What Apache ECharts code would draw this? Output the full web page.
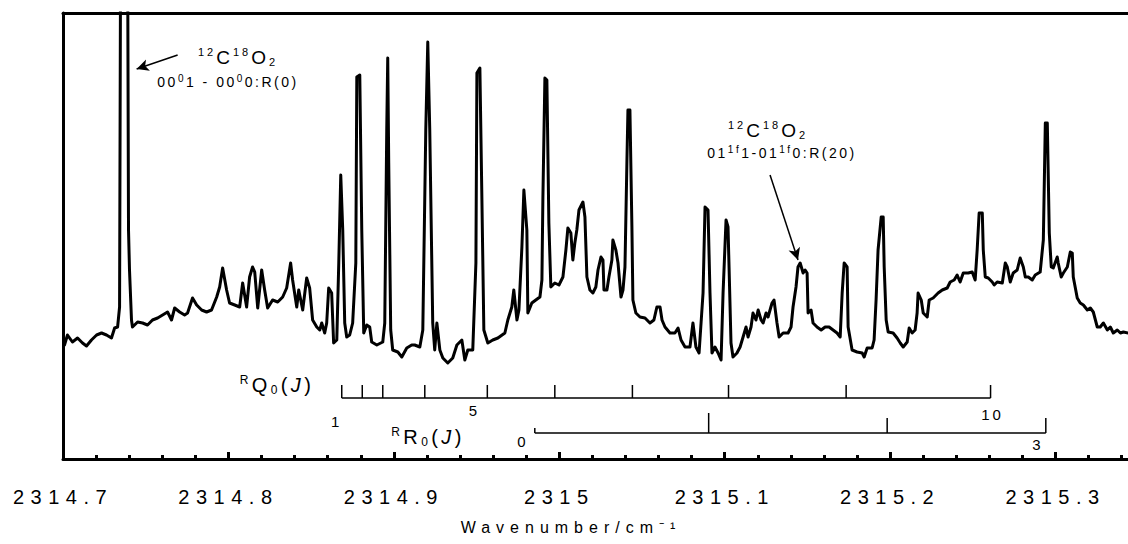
<!DOCTYPE html>
<html>
<head>
<meta charset="utf-8">
<script src="https://cdn.jsdelivr.net/npm/echarts@6.0.0/dist/echarts.min.js"></script>
<style>
html,body{margin:0;padding:0;background:#fff;overflow:hidden;width:1128px;height:544px}
#c{width:1221px;height:544px}
</style>
</head>
<body>
<div id="c"></div>
<script>
// ---- data ----
const wavenumber = [
2314.7009,2314.7027,2314.7057,2314.7088,2314.7118,2314.7142,2314.7172,2314.7203,2314.7233,2314.7263,
2314.7293,2314.7312,2314.7330,2314.7342,2314.7354,2314.7384,2314.7396,2314.7402,2314.7414,2314.7420,
2314.7451,2314.7481,2314.7511,2314.7541,2314.7572,2314.7602,2314.7632,2314.7656,2314.7675,2314.7705,
2314.7735,2314.7753,2314.7783,2314.7808,2314.7838,2314.7868,2314.7898,2314.7929,2314.7947,2314.7965,
2314.7989,2314.8007,2314.8038,2314.8068,2314.8086,2314.8110,2314.8128,2314.8146,2314.8159,2314.8177,
2314.8201,2314.8219,2314.8237,2314.8267,2314.8298,2314.8328,2314.8352,2314.8376,2314.8388,2314.8413,
2314.8425,2314.8449,2314.8473,2314.8491,2314.8509,2314.8534,2314.8552,2314.8564,2314.8582,2314.8594,
2314.8606,2314.8624,2314.8636,2314.8655,2314.8667,2314.8679,2314.8691,2314.8703,2314.8715,2314.8733,
2314.8751,2314.8770,2314.8776,2314.8794,2314.8806,2314.8818,2314.8836,2314.8854,2314.8866,2314.8897,
2314.8933,2314.8945,2314.8957,2314.8963,2314.8969,2314.8981,2314.8993,2314.9024,2314.9048,2314.9078,
2314.9108,2314.9126,2314.9157,2314.9175,2314.9193,2314.9205,2314.9217,2314.9235,2314.9247,2314.9260,
2314.9278,2314.9296,2314.9326,2314.9356,2314.9381,2314.9411,2314.9429,2314.9447,2314.9477,2314.9496,
2314.9502,2314.9520,2314.9532,2314.9544,2314.9568,2314.9598,2314.9629,2314.9671,2314.9689,2314.9713,
2314.9725,2314.9744,2314.9756,2314.9774,2314.9786,2314.9804,2314.9810,2314.9834,2314.9858,2314.9883,
2314.9895,2314.9901,2314.9913,2314.9925,2314.9937,2314.9949,2314.9973,2314.9998,2315.0022,2315.0040,
2315.0052,2315.0070,2315.0082,2315.0094,2315.0106,2315.0119,2315.0143,2315.0155,2315.0167,2315.0185,
2315.0203,2315.0221,2315.0234,2315.0252,2315.0264,2315.0270,2315.0288,2315.0300,2315.0318,2315.0324,
2315.0342,2315.0355,2315.0373,2315.0385,2315.0397,2315.0409,2315.0415,2315.0427,2315.0439,2315.0445,
2315.0463,2315.0488,2315.0518,2315.0548,2315.0572,2315.0590,2315.0609,2315.0621,2315.0639,2315.0669,
2315.0699,2315.0718,2315.0736,2315.0760,2315.0790,2315.0808,2315.0826,2315.0845,2315.0869,2315.0881,
2315.0899,2315.0911,2315.0923,2315.0941,2315.0960,2315.0978,2315.0990,2315.1008,2315.1020,2315.1038,
2315.1050,2315.1074,2315.1093,2315.1111,2315.1129,2315.1141,2315.1159,2315.1171,2315.1189,2315.1202,
2315.1220,2315.1232,2315.1250,2315.1262,2315.1286,2315.1298,2315.1316,2315.1329,2315.1353,2315.1383,
2315.1401,2315.1413,2315.1431,2315.1443,2315.1456,2315.1474,2315.1486,2315.1498,2315.1504,2315.1522,
2315.1534,2315.1558,2315.1583,2315.1607,2315.1631,2315.1655,2315.1679,2315.1698,2315.1710,2315.1722,
2315.1740,2315.1746,2315.1770,2315.1800,2315.1831,2315.1843,2315.1861,2315.1891,2315.1903,2315.1915,
2315.1927,2315.1946,2315.1958,2315.1964,2315.1976,2315.1988,2315.2018,2315.2042,2315.2061,2315.2079,
2315.2103,2315.2115,2315.2133,2315.2151,2315.2163,2315.2169,2315.2188,2315.2200,2315.2224,2315.2236,
2315.2260,2315.2290,2315.2315,2315.2345,2315.2363,2315.2387,2315.2405,2315.2423,2315.2442,2315.2472,
2315.2496,2315.2514,2315.2526,2315.2538,2315.2557,2315.2563,2315.2575,2315.2593,2315.2617,2315.2629,
2315.2647,2315.2678,2315.2696,2315.2708,2315.2726,2315.2744,2315.2768,2315.2786,2315.2805,2315.2817,
2315.2835,2315.2859,2315.2877,2315.2907,2315.2926,2315.2938,2315.2950,2315.2962,2315.2974,2315.2986,
2315.3010,2315.3016,2315.3034,2315.3047,2315.3071,2315.3089,2315.3101,2315.3107,2315.3131,2315.3149,
2315.3168,2315.3192,2315.3210,2315.3228,2315.3252,2315.3270,2315.3289,2315.3313,2315.3331,2315.3349,
2315.3373,2315.3392,2315.3410,2315.3440
];
const intensity = [
114,124,117,121,116,113,119,124,126,124,
121,131,132,152,859,859,229,189,139,132,
137,136,134,139,141,144,147,139,151,147,
144,146,161,154,149,147,149,162,172,191,
169,156,154,152,176,152,182,192,187,151,
189,169,151,159,157,162,171,196,179,152,
169,149,181,171,139,132,129,136,126,136,
171,166,116,119,196,284,229,136,122,124,
136,196,382,384,229,126,134,132,117,114,
117,136,329,401,296,129,109,107,102,111,
114,114,112,129,329,417,329,136,109,136,
109,101,96,101,114,119,99,109,109,196,
386,391,262,129,116,119,121,126,139,152,
169,139,149,212,269,229,146,156,159,162,
179,262,381,379,236,172,176,174,182,209,
231,226,199,216,229,249,257,242,182,169,
166,172,189,202,199,169,169,182,199,219,
209,196,162,169,192,299,349,349,232,159,
146,142,141,136,139,152,152,139,132,126,
126,131,119,112,112,136,112,106,166,252,
249,166,106,112,106,99,166,239,232,116,
102,106,112,122,132,122,132,146,139,149,
139,136,146,142,156,159,136,122,126,126,
132,152,172,192,196,186,189,186,146,149,
136,132,129,132,132,129,126,122,166,196,
192,132,109,107,106,102,111,111,119,159,
209,242,242,192,139,127,126,121,116,112,
117,131,126,129,146,166,159,146,142,159,
161,166,169,171,177,179,184,177,186,186,
187,179,209,246,246,209,182,181,177,174,
177,176,196,192,177,186,189,201,192,182,
182,179,184,187,219,336,336,226,192,191,
202,196,182,186,192,207,206,182,161,156,
154,149,151,147,132,132,136,129,132,126,
129,126,127,126
];

// axis ticks
const tickValues = [2314.7, 2314.8, 2314.9, 2315.0, 2315.1, 2315.2, 2315.3];
const tickLabels = ['2314.7', '2314.8', '2314.9', '2315', '2315.1', '2315.2', '2315.3'];
const axisTitle = 'Wavenumber/cm\u207B\u00B9';

// line assignments
const rq0J = [1, 2, 3, 4, 5, 6, 7, 8, 9, 10];
const rq0Wn = [2314.8685, 2314.8809, 2314.8933, 2314.9187, 2314.9565, 2314.9973, 2315.0442, 2315.1023, 2315.1734, 2315.2607];
const rr0J = [0, 1, 2, 3];
const rr0Wn = [2314.9852, 2315.0903, 2315.1982, 2315.2941];
const rq0Shown = [1, 5, 10];
const rr0Shown = [0, 3];

// arrow annotations [tail, head] in data coordinates
const arrowA = [[2314.7693, 404], [2314.7445, 390]];
const arrowB = [[2315.1274, 284], [2315.1443, 199]];

// ---- layout / style (not data) ----
const FONT = '"Liberation Sans", Arial, Helvetica, sans-serif';
const RQ_LEVEL = 61, RR_LEVEL = 26;
const RQ_TICK = 13;
const RR_TICK = [5, 20, 15, 15];
const RQ_LABEL_OFF = {1: [-5, 23], 5: [-13, 12], 10: [2, 16]};
const RR_LABEL_OFF = {0: [-12, 8], 3: [-8, 11]};
// letter spacing (px) by font size, used to imitate the spaced lettering of the original
const TICK_SPACING = 6.5;
const SPACING = {19: 3, 16: 6, 11: 3, 14: 2.5, 10: 2.5, 20: 3.4, 12: 3.4, 15: 3};

function spacingFor(font) {
  const m = /(\d+(?:\.\d+)?)px/.exec(font || '');
  const sz = m ? parseFloat(m[1]) : 12;
  return SPACING[sz] || 0;
}
const measureCtx = document.createElement('canvas').getContext('2d');
if (echarts.setPlatformAPI) {
  echarts.setPlatformAPI({
    measureText: function (text, font) {
      measureCtx.font = font || '12px sans-serif';
      text = text == null ? '' : String(text);
      return {width: measureCtx.measureText(text).width + spacingFor(font) * text.length};
    }
  });
}

const spectrum = wavenumber.map((w, i) => [w, intensity[i]]);

function assignRender(levelV, tickLen, offs, shown) {
  return function (params, api) {
    const x = api.value(0), j = api.value(1), idx = params.dataIndex;
    const p = api.coord([x, levelV]);
    const len = Array.isArray(tickLen) ? tickLen[idx] : tickLen;
    const children = [{
      type: 'line',
      shape: {x1: p[0], y1: p[1], x2: p[0], y2: p[1] - len},
      style: {stroke: '#000', lineWidth: 1.5}
    }];
    if (shown.indexOf(j) >= 0) {
      const o = offs[j];
      children.push({
        type: 'text', x: p[0] + o[0], y: p[1] + o[1],
        style: {text: String(j), fontSize: 15, fontFamily: FONT, fill: '#000', align: 'center', verticalAlign: 'middle'}
      });
    }
    return {type: 'group', children};
  };
}

function richText(x, y, text, size, small, lh) {
  const base = {fontSize: size, fontFamily: FONT, fill: '#000', lineHeight: lh};
  return {
    type: 'text', x: x, y: y, silent: true,
    style: {
      text: text, fontSize: size, fontFamily: FONT, fill: '#000',
      align: 'center', verticalAlign: 'middle', lineHeight: lh,
      rich: {
        sup: {fontSize: small, fontFamily: FONT, fill: '#000', verticalAlign: 'top', lineHeight: small},
        sub: {fontSize: small, fontFamily: FONT, fill: '#000', verticalAlign: 'bottom', lineHeight: small},
        s: base,
        it: Object.assign({}, base, {fontStyle: 'italic'})
      }
    }
  };
}

const chart = echarts.init(document.getElementById('c'), null, {renderer: 'svg', width: 1221, height: 544});
const XMIN = 2314.7, XMAX = 2315.4;

chart.setOption({
  animation: false,
  backgroundColor: '#fff',
  grid: {left: 63, right: 0, top: 13, bottom: 85, containLabel: false, outerBoundsMode: 'none'},
  xAxis: [{
    type: 'value', min: XMIN, max: XMAX, interval: 0.1, position: 'bottom',
    axisLine: {show: true, onZero: false, lineStyle: {color: '#000', width: 3}},
    axisTick: {show: true, inside: true, length: 7, lineStyle: {color: '#000', width: 3}},
    minorTick: {show: true, splitNumber: 5, length: 4, lineStyle: {color: '#000', width: 3}},
    splitLine: {show: false},
    axisLabel: {
      show: true, margin: 26, fontSize: 20, fontFamily: FONT, color: '#000', showMaxLabel: false,
      formatter: function (v) {
        let best = 0;
        for (let i = 1; i < tickValues.length; i++) if (Math.abs(tickValues[i] - v) < Math.abs(tickValues[best] - v)) best = i;
        return Math.abs(tickValues[best] - v) < 1e-6 ? tickLabels[best] : '';
      }
    }
  }, {
    type: 'value', min: XMIN, max: XMAX, position: 'top',
    axisLine: {show: true, onZero: false, lineStyle: {color: '#000', width: 3}},
    axisTick: {show: false}, axisLabel: {show: false}, splitLine: {show: false}
  }],
  yAxis: {
    type: 'value', min: 0, max: 446,
    axisLine: {show: true, onZero: false, lineStyle: {color: '#000', width: 3}},
    axisTick: {show: false}, axisLabel: {show: false}, splitLine: {show: false}
  },
  series: [{
    type: 'line', name: 'spectrum', data: spectrum, showSymbol: false, clip: true,
    lineStyle: {color: '#000', width: 3, cap: 'round', join: 'round'},
    markLine: {
      silent: true, symbol: ['none', 'arrow'], symbolSize: [9, 12],
      label: {show: false},
      lineStyle: {color: '#000', width: 1.5, type: 'solid'},
      data: [
        [{coord: arrowA[0]}, {coord: arrowA[1]}],
        [{coord: arrowB[0]}, {coord: arrowB[1]}]
      ]
    }
  }, {
    type: 'line', name: 'RQ0 bar', data: [[rq0Wn[0], RQ_LEVEL], [rq0Wn[rq0Wn.length - 1], RQ_LEVEL]],
    showSymbol: false, lineStyle: {color: '#000', width: 1.5}
  }, {
    type: 'line', name: 'RR0 bar', data: [[rr0Wn[0], RR_LEVEL], [rr0Wn[rr0Wn.length - 1], RR_LEVEL]],
    showSymbol: false, lineStyle: {color: '#000', width: 1.5}
  }, {
    type: 'custom', name: 'RQ0 ticks', data: rq0Wn.map((w, i) => [w, rq0J[i]]),
    renderItem: assignRender(RQ_LEVEL, RQ_TICK, RQ_LABEL_OFF, rq0Shown)
  }, {
    type: 'custom', name: 'RR0 ticks', data: rr0Wn.map((w, i) => [w, rr0J[i]]),
    renderItem: assignRender(RR_LEVEL, RR_TICK, RR_LABEL_OFF, rr0Shown)
  }],
  graphic: [
    richText(238, 57, '{sup|12}{s|C}{sup|18}{s|O}{sub|2}', 19, 11, 24),
    richText(228, 82, '{s|00}{sup|0}{s|1 - 00}{sup|0}{s|0:R(0)}', 14, 10, 20),
    richText(768, 130, '{sup|12}{s|C}{sup|18}{s|O}{sub|2}', 19, 11, 24),
    richText(782, 153, '{s|01}{sup|1f}{s|1-01}{sup|1f}{s|0:R(20)}', 14, 10, 20),
    richText(277, 385, '{sup|R}{s|Q}{sub|0}{s|(}{it|J}{s|)}', 20, 12, 26),
    richText(428, 437, '{sup|R}{s|R}{sub|0}{s|(}{it|J}{s|)}', 20, 12, 26),
    {type: 'text', x: 571, y: 527, silent: true,
     style: {text: axisTitle, fontSize: 16, fontFamily: FONT, fill: '#000', align: 'center', verticalAlign: 'middle'}}
  ]
});

// tick labels get their own spacing (keyed by content); the rest by font size
function applySpacing() {
  document.querySelectorAll('#c svg text').forEach(function (t) {
    const txt = t.textContent;
    if (tickLabels.indexOf(txt) >= 0) { t.style.letterSpacing = TICK_SPACING + 'px'; return; }
    const sz = parseFloat(getComputedStyle(t).fontSize);
    const s = SPACING[sz];
    if (s) t.style.letterSpacing = s + 'px';
  });
}
chart.on('finished', applySpacing);
applySpacing();
setTimeout(applySpacing, 50);
setTimeout(applySpacing, 300);
</script>
</body>
</html>
